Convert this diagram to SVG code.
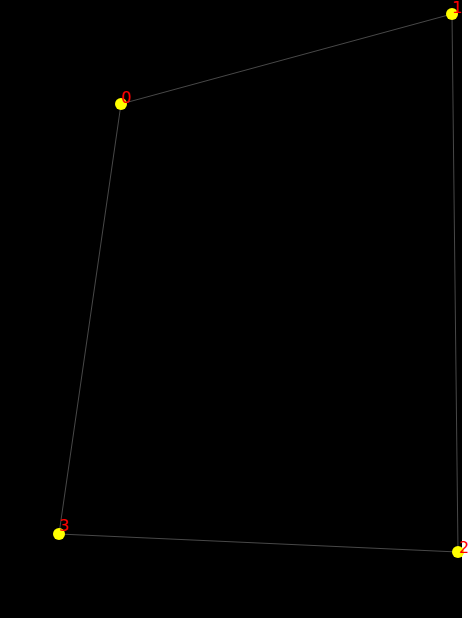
<svg xmlns="http://www.w3.org/2000/svg" width="470" height="618" viewBox="0 0 470 618">
<style>
.edge{stroke:#5a5a5a;stroke-width:0.8;fill:none}
.dot{fill:#ffff00}
.lbl{fill:#ff0000;font-family:"DejaVu Sans",sans-serif;font-size:16px}
</style>
<rect x="0" y="0" width="470" height="618" fill="#ffffff"/>
<rect x="0" y="0" width="462" height="618" fill="#000000"/>
<g id="connectors">
<line class="edge" x1="121" y1="104" x2="452" y2="14"/>
<line class="edge" x1="452" y1="14" x2="458" y2="552"/>
<line class="edge" x1="458" y1="552" x2="59" y2="534"/>
<line class="edge" x1="59" y1="534" x2="121" y2="104"/>
</g>
<g id="node0"><circle class="dot" cx="121" cy="104" r="6"/><text class="lbl" x="121" y="103">0</text></g>
<g id="node1"><circle class="dot" cx="452" cy="14" r="6"/><text class="lbl" x="452" y="13">1</text></g>
<g id="node2"><circle class="dot" cx="458" cy="552" r="6"/><text class="lbl" x="459" y="553">2</text></g>
<g id="node3"><circle class="dot" cx="59" cy="534" r="6"/><text class="lbl" x="59" y="531">3</text></g>
</svg>
